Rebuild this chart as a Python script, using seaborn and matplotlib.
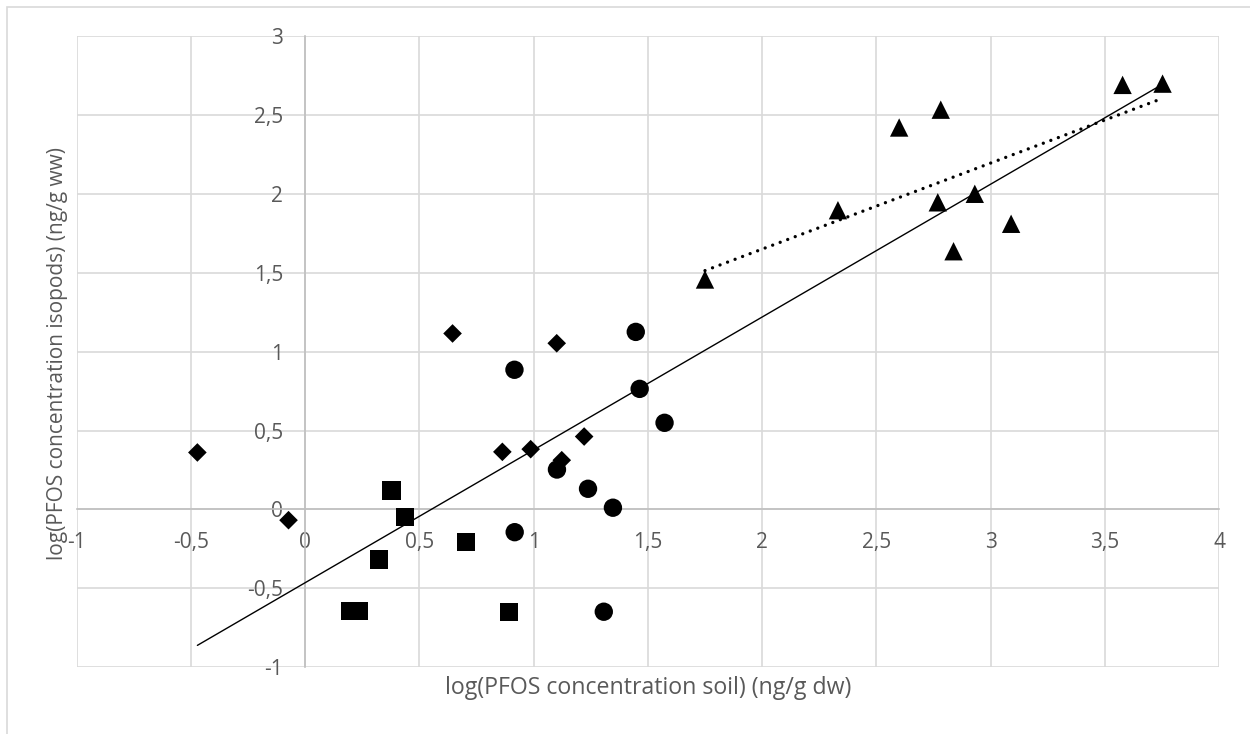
import numpy as np
import pandas as pd
import matplotlib
matplotlib.use("Agg")
import matplotlib.pyplot as plt
from matplotlib.patches import Rectangle
from matplotlib.ticker import FuncFormatter, MultipleLocator
import seaborn as sns

# log PFOS, soil (x) versus isopods (y), one group per marker
site1_x = [-0.472, -0.073, 0.645, 1.101, 0.863, 0.987, 1.221, 1.123]
site1_y = [0.361, -0.068, 1.115, 1.053, 0.365, 0.382, 0.462, 0.312]

site2_x = [0.378, 0.436, 0.324, 0.196, 0.236, 0.703, 0.892]
site2_y = [0.120, -0.049, -0.317, -0.644, -0.644, -0.207, -0.648]

site3_x = [0.916, 1.447, 1.464, 1.573, 1.102, 1.238, 1.347, 0.917, 1.307]
site3_y = [0.885, 1.125, 0.764, 0.549, 0.253, 0.131, 0.011, -0.144, -0.648]

site4_x = [1.750, 2.332, 2.600, 2.782, 2.769, 2.931, 2.838, 3.090, 3.578, 3.753]
site4_y = [1.457, 1.896, 2.420, 2.533, 1.946, 2.000, 1.636, 1.810, 2.690, 2.698]

# Overall relation (slope, intercept) drawn as the solid line
overall_slope = 0.8415
overall_intercept = -0.464

x_label = "log(PFOS concentration soil) (ng/g dw)"
y_label = "log(PFOS concentration isopods) (ng/g ww)"

sns.set_theme(style="white")
plt.rcParams["font.family"] = ["Open Sans", "DejaVu Sans"]

text_col = "#595959"
grid_col = "#D9D9D9"
axis_col = "#BFBFBF"

fig = plt.figure(figsize=(12.5, 7.34), dpi=100)
ax = fig.add_axes([0.0614, 0.0909, 0.9138, 0.8601])

groups = [
    (site1_x, site1_y, "D", 90),
    (site2_x, site2_y, "s", 175),
    (site3_x, site3_y, "o", 175),
    (site4_x, site4_y, "^", 175),
]
for gx, gy, mk, sz in groups:
    sns.scatterplot(x=gx, y=gy, marker=mk, s=sz, color="black",
                    edgecolor="none", linewidth=0, ax=ax, zorder=4)

# Solid line across the full range of soil values
all_x = site1_x + site2_x + site3_x + site4_x
line_x = np.array([min(all_x), max(all_x)])
line_df = pd.DataFrame({"x": line_x,
                        "y": overall_slope * line_x + overall_intercept})
sns.lineplot(data=line_df, x="x", y="y", ax=ax, color="black",
             linewidth=1.0, zorder=3)

# Dotted least-squares fit over the last group
sns.regplot(x=np.array(site4_x), y=np.array(site4_y), ax=ax, scatter=False,
            ci=None, truncate=True, color="black",
            line_kws={"linewidth": 2.4, "linestyle": (0, (0.01, 2.4)),
                      "dash_capstyle": "round", "zorder": 3})

ax.set_xlim(-1, 4)
ax.set_ylim(-1, 3)
ax.xaxis.set_major_locator(MultipleLocator(0.5))
ax.yaxis.set_major_locator(MultipleLocator(0.5))

def comma_fmt(v, pos):
    s = f"{v:g}"
    return s.replace(".", ",")

ax.xaxis.set_major_formatter(FuncFormatter(comma_fmt))
ax.yaxis.set_major_formatter(FuncFormatter(comma_fmt))

ax.grid(True, color=grid_col, linewidth=1.2)
for gl in ax.get_xgridlines() + ax.get_ygridlines():
    gl.set_clip_on(False)
ax.set_axisbelow(True)

for side in ("top", "right"):
    ax.spines[side].set_visible(False)
ax.spines["left"].set_position(("data", 0))
ax.spines["bottom"].set_position(("data", 0))
for side in ("left", "bottom"):
    ax.spines[side].set_color(axis_col)
    ax.spines[side].set_linewidth(1.2)
    ax.spines[side].set_zorder(1)

ax.tick_params(axis="both", length=0, labelsize=15, labelcolor=text_col)
ax.tick_params(axis="x", pad=16)
ax.tick_params(axis="y", pad=16)

ax.set_xlabel("")
ax.set_ylabel("")
fig.text(648 / 1250, 1 - 688 / 734, x_label, ha="center", va="center",
         fontsize=16.7, color=text_col)
fig.text(58 / 1250, 1 - 353 / 734, y_label, ha="center", va="center",
         rotation=90, fontsize=15, color=text_col)

# Chart area frame
fig.add_artist(Rectangle((7 / 1250, -0.5), 2.0, 0.5 + 1 - 7 / 734,
                         transform=fig.transFigure, fill=False,
                         edgecolor=grid_col, linewidth=1.2))

fig.savefig("out.png", dpi=100, facecolor="white")
